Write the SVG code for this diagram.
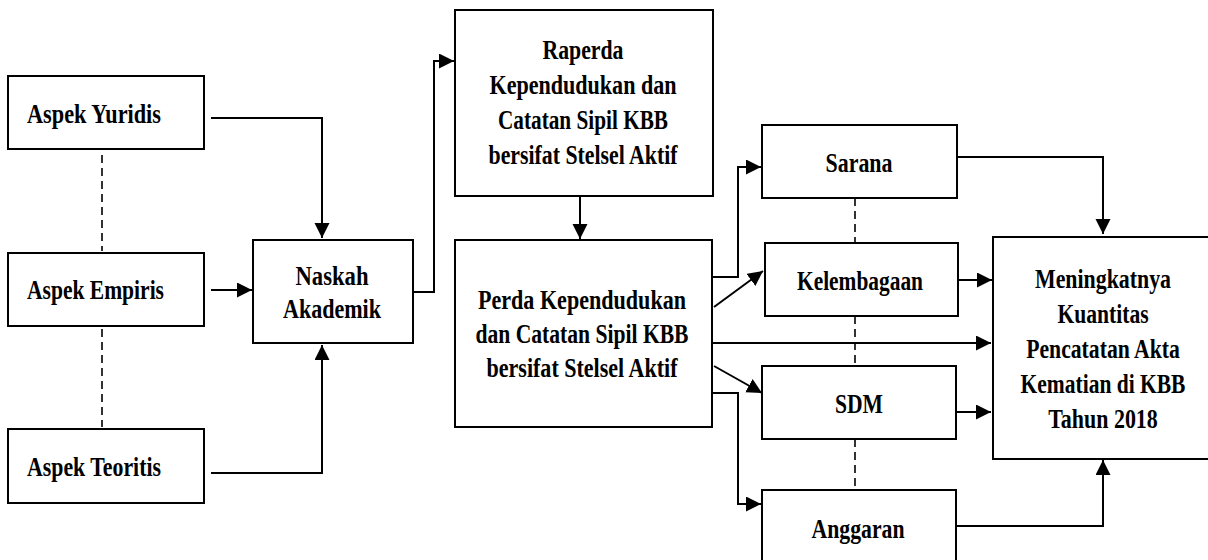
<svg xmlns="http://www.w3.org/2000/svg" width="1208" height="560" viewBox="0 0 1208 560">
<style>
.box{fill:#fff;stroke:#000;stroke-width:2}
.t{font-weight:bold;font-size:27px;fill:#000}
.m{text-anchor:middle}
.c{fill:none;stroke:#000;stroke-width:2}
.d{fill:none;stroke:#000;stroke-width:1.6;stroke-dasharray:8 5}
</style>
<defs>
<marker id="ah" markerUnits="userSpaceOnUse" markerWidth="16" markerHeight="16" refX="15" refY="7.5" orient="auto">
<path d="M0,0 L15,7.5 L0,15 z" fill="#000"/>
</marker>
</defs>
<rect width="1208" height="560" fill="#fff"/>
<g id="connectors">
<path class="c" d="M211,118 H322 V238" marker-end="url(#ah)"/>
<path class="c" d="M211,290 H252" marker-end="url(#ah)"/>
<path class="c" d="M211,473 H322 V345" marker-end="url(#ah)"/>
<path class="c" d="M413,292 H434 V61 H454" marker-end="url(#ah)"/>
<path class="c" d="M580,196 V239" marker-end="url(#ah)"/>
<path class="c" d="M712,277 H738 V167 H761" marker-end="url(#ah)"/>
<path class="c" d="M714,307 L763,271" marker-end="url(#ah)"/>
<path class="c" d="M712,343 H991" marker-end="url(#ah)"/>
<path class="c" d="M714,366 L762,393" marker-end="url(#ah)"/>
<path class="c" d="M712,393 H738 V504 H761" marker-end="url(#ah)"/>
<path class="c" d="M958,157 H1103 V234" marker-end="url(#ah)"/>
<path class="c" d="M958,280 H992" marker-end="url(#ah)"/>
<path class="c" d="M955,412 H991" marker-end="url(#ah)"/>
<path class="c" d="M956,526 H1103 V460" marker-end="url(#ah)"/>
<path class="d" d="M102,155 V251 M102,329 V427"/>
<path class="d" d="M855,198 V243 M855,316 V366 M855,439 V490"/>
</g>
<g font-family="'Liberation Serif', 'Times New Roman', 'DejaVu Serif', serif">
<g id="aspek-yuridis">
<rect class="box" x="8" y="76" width="196" height="73"/>
<text class="t" x="27" y="123" textLength="134" lengthAdjust="spacingAndGlyphs">Aspek Yuridis</text>
</g>
<g id="aspek-empiris">
<rect class="box" x="8" y="253" width="196" height="73"/>
<text class="t" x="27" y="299" textLength="137" lengthAdjust="spacingAndGlyphs">Aspek Empiris</text>
</g>
<g id="aspek-teoritis">
<rect class="box" x="8" y="429" width="196" height="74"/>
<text class="t" x="27" y="476" textLength="134" lengthAdjust="spacingAndGlyphs">Aspek Teoritis</text>
</g>
<g id="naskah-akademik">
<rect class="box" x="253" y="240" width="160" height="103"/>
<text class="t m" x="332" y="285" textLength="73" lengthAdjust="spacingAndGlyphs">Naskah</text>
<text class="t m" x="332" y="318" textLength="98" lengthAdjust="spacingAndGlyphs">Akademik</text>
</g>
<g id="raperda">
<rect class="box" x="455" y="10" width="258" height="186"/>
<text class="t m" x="583" y="59" textLength="81" lengthAdjust="spacingAndGlyphs">Raperda</text>
<text class="t m" x="583" y="94" textLength="187" lengthAdjust="spacingAndGlyphs">Kependudukan dan</text>
<text class="t m" x="583" y="129" textLength="170" lengthAdjust="spacingAndGlyphs">Catatan Sipil KBB</text>
<text class="t m" x="583" y="164" textLength="189" lengthAdjust="spacingAndGlyphs">bersifat Stelsel Aktif</text>
</g>
<g id="perda">
<rect class="box" x="455" y="240" width="257" height="187"/>
<text class="t m" x="582" y="309" textLength="208" lengthAdjust="spacingAndGlyphs">Perda Kependudukan</text>
<text class="t m" x="582" y="343" textLength="213" lengthAdjust="spacingAndGlyphs">dan Catatan Sipil KBB</text>
<text class="t m" x="582" y="377" textLength="191" lengthAdjust="spacingAndGlyphs">bersifat Stelsel Aktif</text>
</g>
<g id="sarana">
<rect class="box" x="762" y="125" width="195" height="73"/>
<text class="t m" x="859" y="172" textLength="67" lengthAdjust="spacingAndGlyphs">Sarana</text>
</g>
<g id="kelembagaan">
<rect class="box" x="765" y="243" width="193" height="73"/>
<text class="t m" x="860" y="290" textLength="126" lengthAdjust="spacingAndGlyphs">Kelembagaan</text>
</g>
<g id="sdm">
<rect class="box" x="762" y="366" width="194" height="73"/>
<text class="t m" x="859" y="413" textLength="48" lengthAdjust="spacingAndGlyphs">SDM</text>
</g>
<g id="anggaran">
<path class="box" d="M762,562 V490 H956 V562"/>
<text class="t m" x="858" y="538" textLength="93" lengthAdjust="spacingAndGlyphs">Anggaran</text>
</g>
<g id="meningkatnya">
<path class="box" d="M1208,237 H993 V459 H1208"/>
<g transform="translate(1103,0) scale(0.8,1)">
<text class="t m" x="0" y="288" textLength="170" lengthAdjust="spacingAndGlyphs">Meningkatnya</text>
<text class="t m" x="0" y="323" textLength="114" lengthAdjust="spacingAndGlyphs">Kuantitas</text>
<text class="t m" x="0" y="358" textLength="192" lengthAdjust="spacingAndGlyphs">Pencatatan Akta</text>
<text class="t m" x="0" y="393" textLength="206" lengthAdjust="spacingAndGlyphs">Kematian di KBB</text>
<text class="t m" x="0" y="428" textLength="137" lengthAdjust="spacingAndGlyphs">Tahun 2018</text>
</g>
</g>
</g>
</svg>
